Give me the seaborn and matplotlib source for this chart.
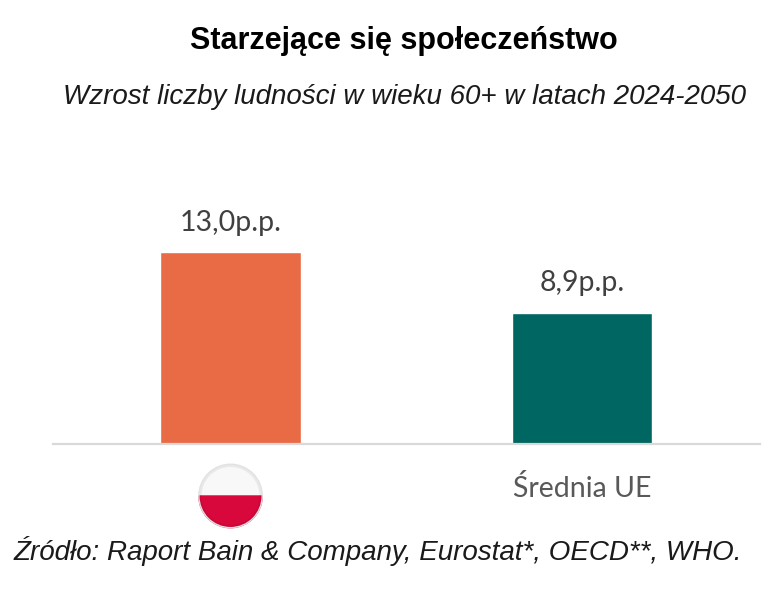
import matplotlib
matplotlib.use("Agg")
import matplotlib.pyplot as plt
from matplotlib.patches import Wedge, Circle
import seaborn as sns

# data
categories = ["Polska", "Średnia UE"]
values = [13.0, 8.9]
value_labels = ["13,0p.p.", "8,9p.p."]
tick_labels = ["", "Średnia UE"]
bar_colors = ["#E96B46", "#006661"]

title = "Starzejące się społeczeństwo"
subtitle = "Wzrost liczby ludności w wieku 60+ w latach 2024-2050"
source = "Źródło: Raport Bain & Company, Eurostat*, OECD**, WHO."


def main():
    sns.set_theme(style="white")
    plt.rcParams["font.family"] = ["Liberation Sans", "DejaVu Sans"]

    fig = plt.figure(figsize=(7.84, 5.91), dpi=100)
    ax = fig.add_axes([53 / 784, 147 / 591, 707 / 784, 292 / 591])

    sns.barplot(
        x=categories,
        y=values,
        hue=categories,
        palette=bar_colors,
        saturation=1,
        width=0.4,
        legend=False,
        ax=ax,
    )
    ax.set_xlim(-0.505, 1.506)
    ax.set_ylim(0, 19.8)

    for cont, lab in zip(ax.containers, value_labels):
        ax.bar_label(cont, labels=[lab], padding=12, fontsize=20.5,
                     color="#404040", family="Lato")

    ax.set_xticks(range(len(categories)))
    ax.set_xticklabels(tick_labels, fontsize=20.5, color="#595959", family="Lato")
    ax.tick_params(axis="x", length=0, pad=22)
    ax.set_yticks([])
    ax.set_xlabel("")
    ax.set_ylabel("")
    sns.despine(ax=ax, left=True)
    ax.spines["bottom"].set_color("#D9D9D9")
    ax.spines["bottom"].set_linewidth(1.6)

    # Polish flag in place of the first category label
    flag = ax.inset_axes([0 - 0.094, -0.291, 0.188, 0.226],
                         transform=ax.get_xaxis_transform())
    flag.set_xlim(0, 1)
    flag.set_ylim(0, 1)
    flag.set_aspect("equal")
    flag.axis("off")
    flag.add_patch(Wedge((0.5, 0.5), 0.48, 0, 180, color="#F8F8F8"))
    flag.add_patch(Wedge((0.5, 0.5), 0.48, 180, 360, color="#D9083C"))
    flag.add_patch(Circle((0.5, 0.5), 0.46, fill=False, ec="#000000",
                          lw=2, alpha=0.06))
    flag.add_patch(Circle((0.5, 0.5), 0.48, fill=False, ec="#E2E2E2", lw=1))

    fig.text(0.515, 1 - 41 / 591, title, ha="center", va="center",
             fontsize=22, fontweight="bold", color="black")
    fig.text(0.516, 1 - 97 / 591, subtitle, ha="center", va="center",
             fontsize=20, style="italic", color="#1a1a1a")
    fig.text(14 / 784, 1 - 551 / 591, source, ha="left", va="center",
             fontsize=20, style="italic", color="#1a1a1a")

    fig.savefig("out.png", dpi=100)


if __name__ == "__main__":
    main()
